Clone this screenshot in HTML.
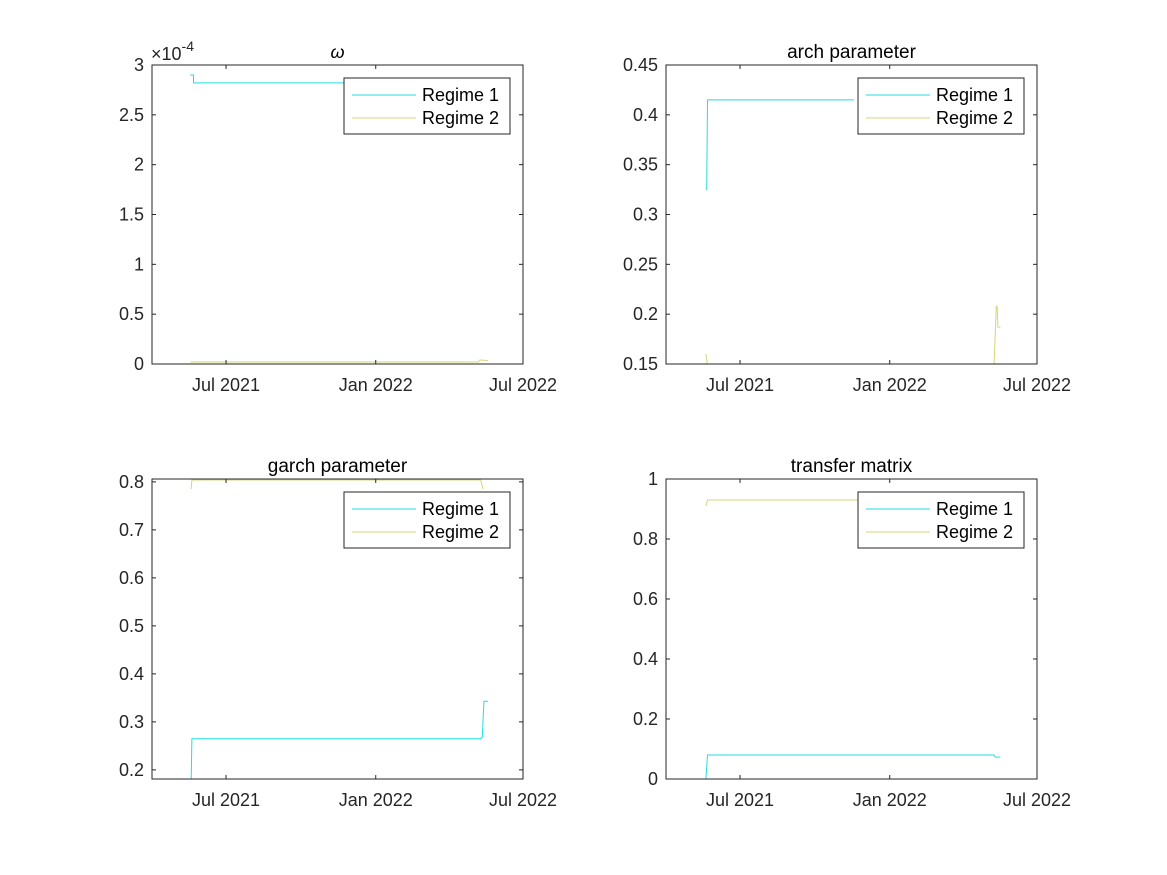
<!DOCTYPE html>
<html><head><meta charset="utf-8"><style>
body{margin:0;background:#fff}
svg{display:block;font-family:"Liberation Sans",sans-serif}
</style></head><body>
<svg id="fig" width="1167" height="875"></svg>
<script>
// x data: days since 1 Jul 2021
const xTickDays=[0,184,365];
const xTickLabels=["Jul 2021","Jan 2022","Jul 2022"];
// omega (x1e-4)
const omR1Days=[-44,-40,-40,322];
const omR1Vals=[2.9,2.9,2.82,2.82];
const omR2Days=[-44,300,310,312,322];
const omR2Vals=[0.02,0.02,0.02,0.04,0.035];
const omTicks=[0,0.5,1,1.5,2,2.5,3];
// arch
const arR1Days=[-42,-41,-40,140];
const arR1Vals=[0.325,0.325,0.415,0.415];
const arR2Days=[-42,-41,-40,312,315,316,317,320];
const arR2Vals=[0.16,0.155,0.145,0.145,0.208,0.208,0.187,0.187];
const arTicks=[0.15,0.2,0.25,0.3,0.35,0.4,0.45];
// garch
const gaR1Days=[-43,-42,313,315,317,322];
const gaR1Vals=[0.17,0.265,0.265,0.268,0.343,0.343];
const gaR2Days=[-43,-42,313,316];
const gaR2Vals=[0.785,0.804,0.804,0.785];
const gaTicks=[0.2,0.3,0.4,0.5,0.6,0.7,0.8];
// transfer
const trR1Days=[-42,-40,312,314,320];
const trR1Vals=[0,0.08,0.08,0.073,0.073];
const trR2Days=[-42,-40,312];
const trR2Vals=[0.91,0.93,0.93];
const trTicks=[0,0.2,0.4,0.6,0.8,1];

const NS="http://www.w3.org/2000/svg";
const svg=document.getElementById('fig');
function mk(tag,attrs,parent){const e=document.createElementNS(NS,tag);for(const k in attrs)e.setAttribute(k,attrs[k]);(parent||svg).appendChild(e);return e;}
const C1="#22dede",C2="#d6d67a";
function axes(L,T,W,H,ymin,ymax,yTicks,title,s1d,s1v,s2d,s2v,name,titleItalic){
  const g=mk('g',{});
  
  
  const xs=d=>L+(d+91)*W/456, ys=v=>T+H-(v-ymin)/(ymax-ymin)*H;
  const cp='cp'+name;
  const cl=mk('clipPath',{id:cp},g);mk('rect',{x:L,y:T,width:W,height:H},cl);
  function line(d,v,c,nm){let p='';d.forEach((dd,i)=>p+=(i?'L':'M')+xs(dd).toFixed(1)+' '+ys(v[i]).toFixed(1));
    const e=mk('path',{d:p,fill:'none',stroke:c,'stroke-width':1,'clip-path':'url(#'+cp+')'},g);
    
    }
  line(s2d,s2v,C2,'regime-2-line');line(s1d,s1v,C1,'regime-1-line');
  mk('rect',{x:L,y:T,width:W,height:H,fill:'none',stroke:'#262626','stroke-width':1},g);
  yTicks.forEach(v=>{const y=ys(v);mk('line',{x1:L,x2:L+4,y1:y,y2:y,stroke:'#262626'},g);mk('line',{x1:L+W,x2:L+W-4,y1:y,y2:y,stroke:'#262626'},g);
    const t=mk('text',{x:L-8,y:y+6,'text-anchor':'end','font-size':18,fill:'#262626'},g);t.textContent=String(v);
    
    });
  xTickDays.forEach((d,i)=>{const x=xs(d);mk('line',{x1:x,x2:x,y1:T+H,y2:T+H-4,stroke:'#262626'},g);mk('line',{x1:x,x2:x,y1:T,y2:T+4,stroke:'#262626'},g);
    const t=mk('text',{x:x,y:T+H+27,'text-anchor':'middle','font-size':18,fill:'#262626'},g);t.textContent=xTickLabels[i];
    
    });
  const tt=mk('text',{x:L+W/2,y:T-7,'text-anchor':'middle','font-size':titleItalic?18:19,'font-style':titleItalic?'italic':'normal',fill:'#000'},g);tt.textContent=title;
  
  
  const lg=mk('g',{},g);
  
  
  const lx=L+W-179,ly=T+13;
  mk('rect',{x:lx,y:ly,width:166,height:56,fill:'#fff',stroke:'#262626'},lg);
  [[C1,'Regime 1'],[C2,'Regime 2']].forEach((e,i)=>{const y=ly+17+i*23;mk('line',{x1:lx+8,x2:lx+72,y1:y,y2:y,stroke:e[0]},lg);
    const t=mk('text',{x:lx+78,y:y+6,'font-size':18,fill:'#000'},lg);t.textContent=e[1];
    
    });
  return g;
}
axes(152,65,371,299,0,3,omTicks,'ω',omR1Days,omR1Vals,omR2Days,omR2Vals,'omega-axes',true);
const ex=mk('text',{x:151,y:60,'font-size':18,fill:'#262626'});ex.innerHTML='×10<tspan dy="-9" font-size="14">-4</tspan>';


axes(666,65,371,299,0.15,0.45,arTicks,'arch parameter',arR1Days,arR1Vals,arR2Days,arR2Vals,'arch-axes');
axes(152,479,371,300,0.1810,0.8060,gaTicks,'garch parameter',gaR1Days,gaR1Vals,gaR2Days,gaR2Vals,'garch-axes');
axes(666,479,371,300,0,1,trTicks,'transfer matrix',trR1Days,trR1Vals,trR2Days,trR2Vals,'transfer-axes');
</script>
</body></html>
